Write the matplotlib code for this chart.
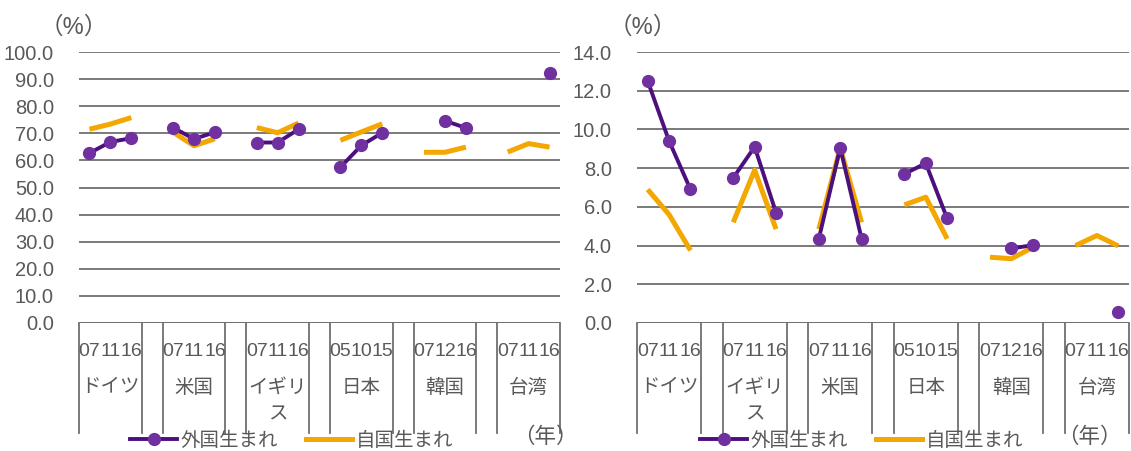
import numpy as np
import matplotlib
matplotlib.use("Agg")
import matplotlib.pyplot as plt
from matplotlib import transforms
from matplotlib.lines import Line2D

plt.rcParams['font.family'] = ['Liberation Sans', 'Noto Sans CJK JP']

nan = np.nan

# left panel: share of the population (%)
countries_l = ["ドイツ", "米国", "イギリ\nス", "日本", "韓国", "台湾"]
years_l = [["07", "11", "16"], ["07", "11", "16"], ["07", "11", "16"],
           ["05", "10", "15"], ["07", "12", "16"], ["07", "11", "16"]]
foreign_l = [[62.7, 66.8, 68.2], [72.1, 67.9, 70.4], [66.6, 66.6, 71.5],
             [57.5, 65.5, 70.2], [nan, 74.6, 72.0], [nan, nan, 92.2]]
native_l = [[71.5, 73.4, 75.8], [70.4, 65.4, 68.0], [72.1, 70.2, 73.8],
            [67.4, 70.5, 73.5], [63.0, 63.0, 64.9], [63.1, 66.2, 64.9]]

# right panel (%)
countries_r = ["ドイツ", "イギリ\nス", "米国", "日本", "韓国", "台湾"]
years_r = [["07", "11", "16"], ["07", "11", "16"], ["07", "11", "16"],
           ["05", "10", "15"], ["07", "12", "16"], ["07", "11", "16"]]
foreign_r = [[12.5, 9.4, 6.9], [7.5, 9.1, 5.7], [4.35, 9.05, 4.35],
             [7.7, 8.25, 5.4], [nan, 3.85, 4.02], [nan, nan, 0.55]]
native_r = [[6.9, 5.6, 3.75], [5.2, 7.9, 4.85], [4.85, 9.05, 5.2],
            [6.1, 6.5, 4.35], [3.4, 3.32, 3.9], [4.0, 4.52, 3.98]]

PURPLE_LINE = "#4B0F7E"
PURPLE_DOT = "#7030A0"
ORANGE = "#F3A700"
GRID = "#707070"
TEXT = "#595959"
FS = 14

fig = plt.figure(figsize=(11.31, 4.51), dpi=100)
W, H = 1131, 451


def panel(rect, countries, years, foreign, native, ymax, ystep, pct_x, leg_x, nen_x):
    ax = fig.add_axes(rect)
    n = len(countries)
    ax.set_xlim(-0.5, 4 * n - 1.5)
    ax.set_ylim(0, ymax)
    ticks = np.arange(0, ymax + ystep / 2, ystep)
    ax.set_yticks(ticks)
    ax.set_yticklabels([f"{v:.1f}" for v in ticks])
    ax.tick_params(axis='y', length=0, pad=18, labelsize=14.5, labelcolor=TEXT)
    ax.set_xticks([])
    for s in ax.spines.values():
        s.set_visible(False)
    ax.grid(axis='y', color=GRID, lw=1.3)
    ax.set_axisbelow(True)

    xt = ax.get_xaxis_transform()
    yr_tr = transforms.offset_copy(xt, fig=fig, y=-29, units='dots')
    nm_tr = transforms.offset_copy(xt, fig=fig, y=-56, units='dots')
    for g in range(n):
        xs = np.arange(3) + 4 * g
        ax.plot(xs, native[g], color=ORANGE, lw=3.6, solid_capstyle='butt', zorder=3)
        ax.plot(xs, foreign[g], color=PURPLE_LINE, lw=2.8, marker='o', ms=8.5,
                mfc=PURPLE_DOT, mec=PURPLE_DOT, zorder=4, clip_on=False)
        for x, y in zip(xs, years[g]):
            ax.text(x, 0, y, transform=yr_tr, ha='center', va='center',
                    fontsize=FS, color=TEXT)
        ax.text(xs[1], 0, countries[g], transform=nm_tr, ha='center', va='top',
                fontsize=FS, color=TEXT, linespacing=1.75)

    # category group separators below the axis
    bounds = [-0.5]
    for g in range(n):
        bounds.append(4 * g + 2.5)
        if g < n - 1:
            bounds.append(4 * g + 3.5)
    for b in bounds:
        ax.plot([b, b], [0, -110 / (rect[3] * H)], transform=xt, color=GRID,
                lw=1.3, clip_on=False)
    ax.axhline(0, color=GRID, lw=1.3, zorder=2)

    fig.text(pct_x / W, 1 - 28 / H, "（%）", ha='center', va='center',
             fontsize=17, color=TEXT)
    fig.text(nen_x / W, 1 - 437 / H, "（年）", ha='center', va='center',
             fontsize=15.5, color=TEXT)
    handles = [Line2D([], [], color=PURPLE_LINE, lw=2.8, marker='o', ms=8.5,
                      mfc=PURPLE_DOT, mec=PURPLE_DOT),
               Line2D([], [], color=ORANGE, lw=3.6)]
    fig.legend(handles, ["外国生まれ", "自国生まれ"], loc='center',
               bbox_to_anchor=(leg_x / W, 1 - 441 / H), ncol=2, frameon=False,
               fontsize=FS, labelcolor=TEXT, handlelength=2.4,
               handletextpad=0.2, columnspacing=1.4, borderaxespad=0,
               borderpad=0)
    return ax


bottom = (H - 323) / H
height = 271 / H
panel([79 / W, bottom, 481 / W, height], countries_l, years_l, foreign_l, native_l,
      100, 10, 74, 292, 545)
panel([637 / W, bottom, 492 / W, height], countries_r, years_r, foreign_r, native_r,
      14, 2, 643, 862, 1089)

fig.savefig("out.png", dpi=100)
